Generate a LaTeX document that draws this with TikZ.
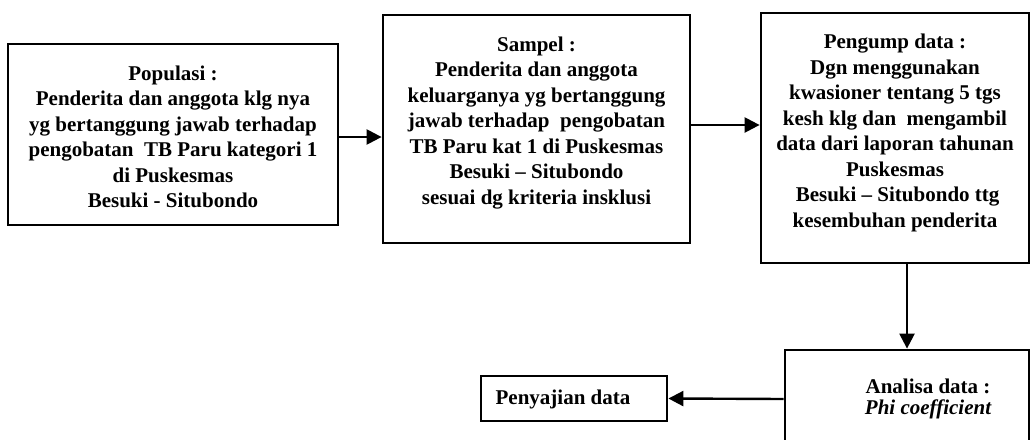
\documentclass[tikz,border=0pt]{standalone}
\usepackage{fontspec}
\setmainfont{Liberation Serif}
\usetikzlibrary{arrows.meta}
\begin{document}
\begin{tikzpicture}[x=1pt,y=-1pt,
  box/.style={draw, line width=2.8pt, inner sep=0pt},
  txt/.style={font=\fontsize{21}{25.5}\selectfont\bfseries, align=center, inner sep=0pt},
  arr/.style={line width=2.4pt, -{Triangle[length=15pt,width=15pt]}}]
\useasboundingbox (0,0) rectangle (1032,439);
\clip (0,0) rectangle (1032,439);
\fill[white] (0,0) rectangle (1032,439);
% boxes
\node[box, minimum width=330pt, minimum height=181pt] (b1) at (173,134.5) {};
\node[box, minimum width=307pt, minimum height=228pt] (b2) at (536.5,129) {};
\node[box, minimum width=268pt, minimum height=250pt] (b3) at (895,138) {};
\node[box, minimum width=244pt, minimum height=98pt] (b4) at (907,399) {};
\node[box, minimum width=186pt, minimum height=45pt] (b5) at (574,398.5) {};
% texts
\node[txt] (t1) at (173,137) {Populasi :\\Penderita dan anggota klg nya\\yg bertanggung jawab terhadap\\pengobatan\ \ TB Paru kategori 1\\di Puskesmas\\Besuki - Situbondo};
\node[txt] (t2) at (536.5,123) {Sampel :\\Penderita dan anggota\\keluarganya yg bertanggung\\jawab terhadap\ \ pengobatan\\TB Paru kat 1 di Puskesmas\\Besuki -- Situbondo\\sesuai dg kriteria insklusi};
\node[txt] (t3) at (895,133) {Pengump data :\\Dgn menggunakan\\kwasioner tentang 5 tgs\\kesh klg dan\ \ mengambil\\data dari laporan tahunan\\Puskesmas\\\ Besuki -- Situbondo ttg\\kesembuhan penderita};
\node[txt] (t4) at (928,399) {Analisa data :\\[-4pt]\itshape Phi coefficient};
\node[txt] (t5) at (563,399) {Penyajian data};
% connectors
\draw[arr] ([yshift=-2.5pt]b1.east) -- ([yshift=-2.5pt]b1.east -| b2.west);
\draw[arr] ([yshift=4pt]b2.east) -- ([yshift=4pt]b2.east -| b3.west);
\draw[arr] (b3.south -| b4.north) -- (b4.north);
\draw[arr] (b4.west) -- (b5.east);
\end{tikzpicture}
\end{document}
